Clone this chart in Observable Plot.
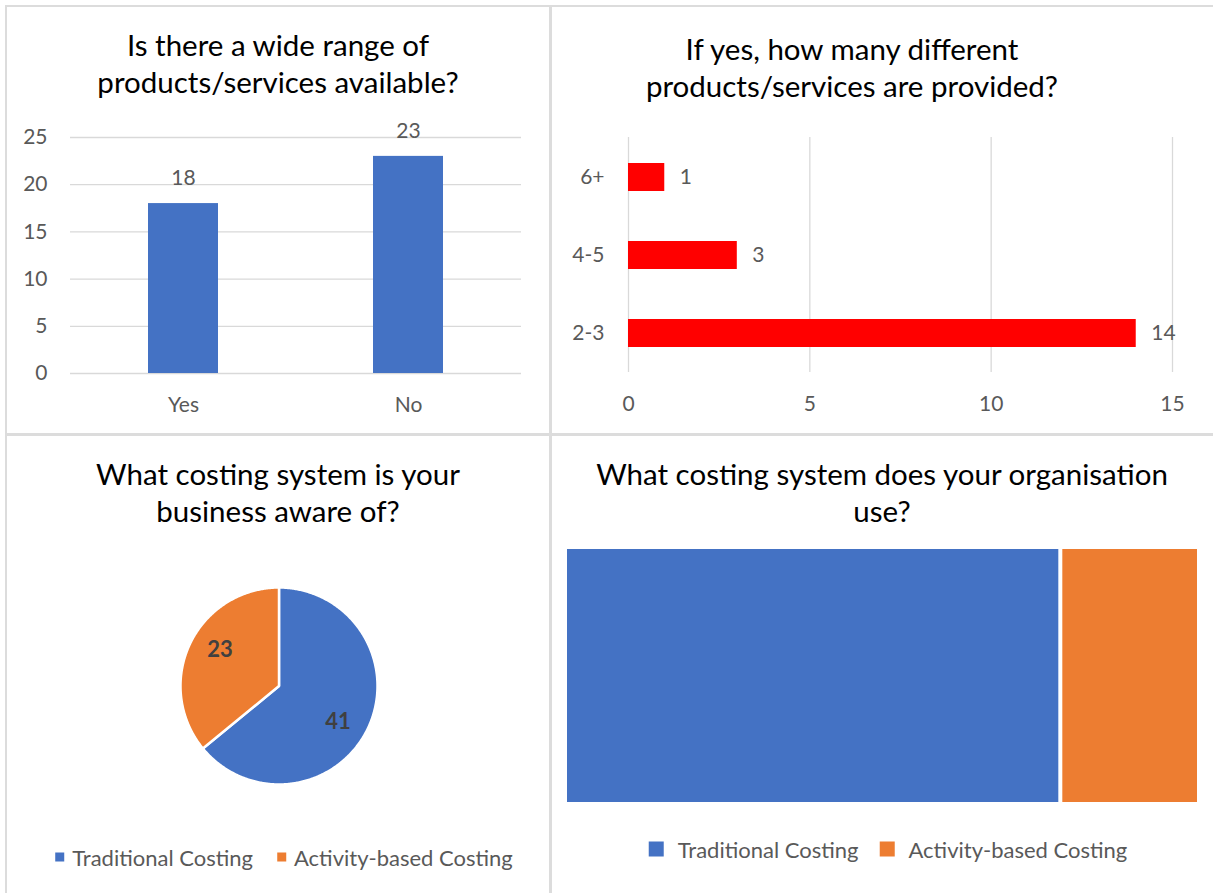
<!DOCTYPE html>
<html><head><meta charset="utf-8">
<script src="https://cdn.jsdelivr.net/npm/d3@7"></script>
<script src="https://cdn.jsdelivr.net/npm/@observablehq/plot@0.6"></script>
<style>
body{margin:0;background:#fff;font-family:Lato, sans-serif;}
#root{position:relative;width:1213px;height:893px;overflow:hidden;background:#fff}
.line{position:absolute;background:#dcdcdc}
.title{position:absolute;text-align:center;color:#000;font-size:29.5px;line-height:37px;white-space:nowrap;transform:translateX(-50%)}
.chart{position:absolute}
.legend{position:absolute;display:flex;align-items:center;color:#595959;white-space:nowrap;transform:translate(-50%,-50%)}
.legend .sw{display:inline-block}
</style></head><body><div id="root"></div>
<script>
// ---- data ----
const rangeCats = ["Yes", "No"];
const rangeValues = [18, 23];
const rangeTicks = [0, 5, 10, 15, 20, 25];

const countCats = ["6+", "4-5", "2-3"];
const countValues = [1, 3, 14];
const countTicks = [0, 5, 10, 15];

const systemCats = ["Traditional Costing", "Activity-based Costing"];
const systemColors = ["#4472C4", "#ED7D31"];
const awareValues = [41, 23];
const useValues = [50, 14];

const titles = [
  ["Is there a wide range of", "products/services available?"],
  ["If yes, how many different", "products/services are provided?"],
  ["What costing system is your", "business aware of?"],
  ["What costing system does your organisation", "use?"]
];

const root = document.getElementById("root");
const FONT = "Lato, sans-serif";

// panel lines
function line(l, t, w, h) { const d = document.createElement("div"); d.className = "line"; Object.assign(d.style, {left: l + "px", top: t + "px", width: w + "px", height: h + "px"}); root.appendChild(d); }
line(5, 5, 1208, 2);
line(5, 5, 2, 888);
line(549, 5, 2.5, 888);
line(5, 433, 1208, 2.5);

function title(lines, cx, top) {
  const d = document.createElement("div"); d.className = "title";
  d.style.left = cx + "px"; d.style.top = top + "px";
  d.innerHTML = lines.map(s => `<div>${s}</div>`).join("");
  root.appendChild(d);
}
title(titles[0], 278, 26);
title(titles[1], 852, 30);
title(titles[2], 278, 455);
title(titles[3], 882, 455);

function place(svg, l, t) { svg.classList.add("chart"); svg.style.left = l + "px"; svg.style.top = t + "px"; root.appendChild(svg); }

// ---- Chart 1: columns ----
const data1 = rangeCats.map((c, i) => ({cat: c, value: rangeValues[i]}));
const p1 = Plot.plot({
  width: 550, height: 310,
  marginTop: 27, marginBottom: 47, marginLeft: 70, marginRight: 29,
  style: {fontFamily: FONT, fontSize: "21px", color: "#595959", background: "transparent"},
  x: {domain: rangeCats, paddingInner: 0.687, paddingOuter: 0.3435, label: null, tickSize: 0, tickPadding: 24},
  y: {domain: [0, 25], ticks: rangeTicks, label: null, tickSize: 0, tickPadding: 23},
  marks: [
    Plot.ruleY(rangeTicks, {stroke: "#d9d9d9", strokeWidth: 1.3}),
    Plot.barY(data1, {x: "cat", y: "value", fill: "#4472C4"}),
    Plot.text(data1, {x: "cat", y: "value", text: d => String(d.value), dy: -25, fill: "#595959"})
  ]
});
place(p1, 0, 110);

// ---- Chart 2: horizontal bars ----
const data2 = countCats.map((c, i) => ({cat: c, value: countValues[i]}));
const p2 = Plot.plot({
  width: 663, height: 310,
  marginTop: 27, marginBottom: 48, marginLeft: 78, marginRight: 41,
  style: {fontFamily: FONT, fontSize: "21px", color: "#595959", background: "transparent"},
  x: {domain: [0, 15], ticks: countTicks, label: null, tickSize: 0, tickPadding: 24},
  y: {domain: countCats, paddingInner: 0.643, paddingOuter: 0.32, label: null, tickSize: 0, tickPadding: 24},
  marks: [
    Plot.ruleX(countTicks, {stroke: "#d9d9d9", strokeWidth: 1.3}),
    Plot.barX(data2, {x: "value", y: "cat", fill: "#FF0000"}),
    Plot.text(data2, {x: "value", y: "cat", text: d => String(d.value), textAnchor: "start", dx: 15, fill: "#595959"})
  ]
});
place(p2, 550, 110);

// ---- Chart 3: pie ----
const arcs = d3.pie().sort(null).startAngle(0).endAngle(2 * Math.PI)(awareValues);
function slicePoints(a) {
  const pts = [{x: 0, y: 0}];
  const n = Math.max(2, Math.ceil((a.endAngle - a.startAngle) / 0.01));
  for (let k = 0; k <= n; k++) {
    const t = a.startAngle + (a.endAngle - a.startAngle) * k / n;
    pts.push({x: Math.sin(t), y: Math.cos(t)});
  }
  return pts;
}
const labels3 = arcs.map((a, i) => {
  const m = (a.startAngle + a.endAngle) / 2 + 0.1;
  return {x: 0.7 * Math.sin(m), y: 0.7 * Math.cos(m), text: String(awareValues[i])};
});
const p3 = Plot.plot({
  width: 550, height: 260,
  marginTop: 27, marginBottom: 36, marginLeft: 180, marginRight: 173,
  style: {fontFamily: FONT, fontSize: "22px", color: "#404040", background: "transparent"},
  x: {domain: [-1, 1], axis: null},
  y: {domain: [-1, 1], axis: null},
  marks: [
    ...arcs.map((a, i) => Plot.line(slicePoints(a), {x: "x", y: "y", fill: systemColors[i], stroke: "white", strokeWidth: 2.5, curve: "linear-closed"})),
    Plot.text(labels3, {x: "x", y: "y", text: "text", fontWeight: "bold", fill: "#404040"})
  ]
});
place(p3, 0, 560);

// ---- Chart 4: treemap ----
const data4 = systemCats.map((c, i) => ({cat: c, value: useValues[i]}));
const p4 = Plot.plot({
  width: 663, height: 280,
  marginTop: 9, marginBottom: 18, marginLeft: 15, marginRight: 14,
  style: {background: "transparent"},
  x: {domain: [0, d3.sum(useValues)], axis: null},
  y: {domain: [0, 1], axis: null},
  color: {domain: systemCats, range: systemColors},
  marks: [
    Plot.rectX(data4, Plot.stackX({x: "value", y1: 0, y2: 1, fill: "cat", insetLeft: 2, insetRight: 2}))
  ]
});
place(p4, 550, 540);

// ---- legends ----
function legend(cx, cy, sw, gapText, gapItem, fontSize) {
  const d = document.createElement("div"); d.className = "legend";
  d.style.left = cx + "px"; d.style.top = cy + "px"; d.style.fontSize = fontSize + "px";
  systemCats.forEach((c, i) => {
    const it = document.createElement("span");
    it.style.display = "flex"; it.style.alignItems = "center";
    if (i > 0) it.style.marginLeft = gapItem + "px";
    it.innerHTML = `<span class="sw" style="width:${sw}px;height:${sw}px;background:${systemColors[i]};margin-right:${gapText}px"></span><span>${c}</span>`;
    d.appendChild(it);
  });
  root.appendChild(d);
}
legend(284, 857, 9, 8, 24, 22);
legend(888, 849, 15, 14, 21, 22);
</script>
</body></html>
